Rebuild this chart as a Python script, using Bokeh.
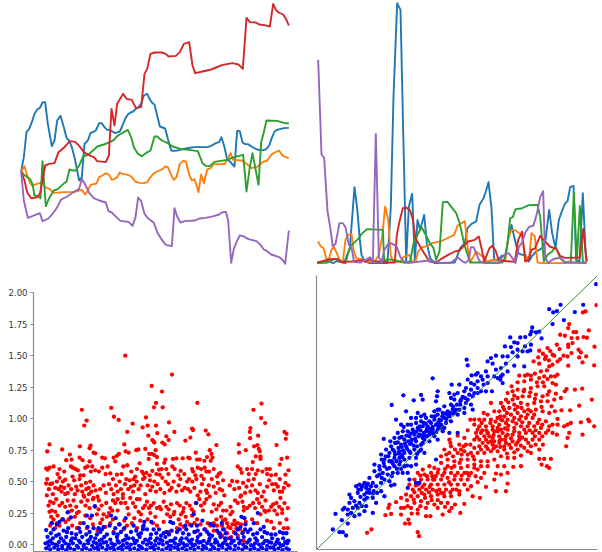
from bokeh.plotting import figure
from bokeh.layouts import column, row
from bokeh.models import Range1d, FixedTicker
from bokeh.embed import file_html
from bokeh.resources import INLINE

C = {"blue": "#1f77b4", "orange": "#ff7f0e", "green": "#2ca02c", "red": "#d62728", "purple": "#9467bd"}

# top-left panel: series as (position, depth below top)
tl_blue = [(62,513),(70,470),(78,395),(86,385),(94,365),(102,340),(110,327),(118,322),(126,306),(134,305),(142,370),(154,437),(162,420),(170,360),(180,346),(190,380),(198,412),(206,420),(214,440),(222,470),(230,510),(236,540),(244,530),(252,430),(262,420),(270,398),(278,394),(286,390),(296,368),(304,368),(312,380),(320,388),(328,388),(336,393),(344,398),(352,395),(358,393),(366,375),(374,355),(382,342),(390,336),(398,333),(406,325),(414,320),(422,310),(430,285),(440,280),(448,297),(456,308),(462,312),(470,345),(478,378),(486,381),(494,384),(502,415),(512,450),(520,451),(530,450),(540,448),(556,444),(580,440),(620,440),(632,436),(646,428),(656,425),(663,410),(672,440),(680,477),(688,483),(702,498),(710,391),(718,392),(726,425),(734,431),(742,431),(750,436),(758,441),(766,445),(776,449),(790,449),(798,445),(806,435),(814,412),(822,393),(830,388),(838,386),(850,383),(865,382)]
tl_orange = [(62,513),(72,497),(80,525),(88,545),(94,555),(110,550),(126,546),(134,560),(146,565),(160,577),(190,575),(222,574),(244,568),(254,582),(262,570),(270,553),(288,549),(296,530),(304,526),(316,518),(326,523),(334,538),(342,535),(350,530),(358,516),(366,520),(382,523),(392,528),(404,543),(416,547),(430,548),(440,545),(448,533),(458,520),(470,513),(486,506),(494,498),(502,500),(512,523),(520,538),(528,530),(538,490),(548,481),(556,483),(566,522),(574,540),(582,536),(586,548),(594,575),(602,522),(610,548),(620,507),(630,503),(640,491),(672,491),(684,470),(690,458),(698,478),(724,480),(738,490),(754,503),(770,499),(786,485),(800,480),(815,460),(835,450),(848,467),(865,473)]
tl_green = [(62,513),(72,524),(88,535),(96,550),(102,585),(112,587),(120,593),(126,482),(136,617),(146,593),(160,570),(172,566),(182,556),(192,547),(198,544),(207,507),(216,510),(226,510),(236,495),(248,468),(264,462),(280,448),(290,438),(310,432),(330,424),(340,418),(352,405),(370,395),(382,388),(392,410),(400,440),(412,460),(424,467),(436,458),(450,450),(462,408),(470,408),(484,420),(502,428),(516,438),(540,445),(570,449),(592,452),(606,488),(616,496),(628,497),(642,484),(680,478),(700,470),(728,463),(738,573),(748,500),(756,458),(764,500),(774,553),(782,425),(790,395),(798,360),(830,361),(850,367),(865,369)]
tl_red = [(62,513),(72,540),(80,575),(92,593),(108,591),(118,580),(126,540),(134,495),(146,490),(162,488),(174,455),(190,442),(208,422),(224,424),(236,436),(250,455),(270,466),(280,470),(290,482),(316,485),(325,465),(333,325),(342,375),(350,310),(368,280),(378,295),(394,298),(406,322),(422,320),(432,220),(440,205),(450,160),(462,156),(484,156),(496,160),(504,168),(526,166),(538,155),(550,130),(566,125),(576,195),(584,218),(606,213),(632,207),(666,193),(696,188),(714,192),(727,205),(738,52),(748,65),(766,66),(776,72),(792,74),(808,78),(818,10),(826,28),(834,36),(848,42),(858,58),(865,75)]
tl_purple = [(62,513),(70,600),(82,652),(118,638),(126,662),(144,654),(160,635),(170,620),(182,597),(200,588),(214,578),(236,565),(244,535),(254,552),(266,577),(280,593),(296,600),(316,606),(324,632),(334,636),(350,652),(360,661),(384,664),(396,676),(405,650),(413,591),(422,602),(432,640),(444,655),(460,667),(470,695),(482,715),(496,733),(514,737),(522,623),(530,648),(540,666),(552,662),(584,660),(596,654),(616,652),(640,647),(656,642),(664,636),(676,634),(683,660),(692,787),(700,745),(708,725),(718,705),(726,706),(744,716),(768,722),(780,733),(790,747),(800,752),(812,762),(836,770),(846,778),(854,790),(865,690)]

# top-right panel: (position, height above baseline)
tr_blue = [(47,0),(60,3),(70,8),(85,5),(95,0),(104,6),(128,2),(145,45),(159,228),(167,165),(175,70),(180,25),(190,5),(205,0),(258,0),(268,170),(276,500),(287,780),(297,760),(305,400),(314,5),(322,170),(332,208),(340,5),(348,130),(356,100),(368,145),(376,60),(386,15),(400,0),(460,2),(476,45),(490,60),(498,105),(510,118),(524,125),(534,175),(546,195),(553,215),(561,243),(570,165),(578,10),(590,10),(600,22),(612,25),(620,70),(630,115),(640,70),(650,30),(662,25),(672,25),(682,5),(692,22),(704,35),(722,45),(732,70),(743,160),(752,90),(762,45),(772,130),(782,158),(790,178),(798,186),(806,228),(816,232),(824,8),(834,5),(844,210),(852,40),(856,5)]
tr_orange = [(50,65),(58,50),(66,45),(74,15),(82,10),(90,40),(98,47),(106,30),(114,10),(124,5),(132,70),(140,85),(150,88),(156,40),(164,15),(180,12),(192,4),(208,4),(222,8),(232,25),(242,80),(251,170),(260,130),(268,20),(278,3),(296,4),(306,18),(324,25),(332,5),(342,5),(350,35),(360,47),(378,52),(392,60),(420,66),(436,74),(458,85),(468,112),(480,120),(490,126),(498,50),(506,3),(516,20),(524,35),(540,22),(548,20),(556,3),(566,8),(590,12),(604,5),(612,12),(620,75),(630,100),(642,98),(660,85),(668,40),(676,5),(684,25),(690,90),(700,80),(708,2),(720,0),(855,0)]
tr_green = [(47,0),(75,1),(90,8),(100,13),(110,11),(122,2),(132,0),(140,30),(148,52),(170,73),(180,87),(196,102),(244,100),(248,6),(258,12),(284,8),(310,1),(326,5),(336,60),(348,85),(360,108),(370,90),(384,62),(396,45),(404,10),(414,35),(424,183),(438,184),(450,168),(464,150),(474,122),(490,50),(506,2),(602,2),(610,15),(618,60),(626,135),(634,138),(642,162),(660,164),(682,174),(708,175),(716,140),(727,5),(738,25),(752,35),(762,50),(776,15),(790,2),(808,5),(817,212),(826,5),(835,172),(844,5),(855,0)]
tr_red = [(47,2),(60,5),(72,8),(85,12),(105,13),(120,3),(150,5),(172,8),(186,8),(194,5),(204,11),(220,6),(240,5),(258,2),(280,2),(286,85),(294,125),(304,165),(314,167),(326,158),(334,130),(342,75),(356,50),(368,30),(384,5),(404,2),(418,12),(440,25),(460,35),(474,38),(490,56),(500,65),(520,70),(532,80),(540,45),(548,5),(556,25),(564,45),(572,52),(582,38),(592,8),(640,4),(650,70),(662,95),(671,5),(682,12),(690,40),(700,44),(716,82),(728,68),(745,50),(765,42),(776,22),(790,16),(835,17),(845,103),(855,5)]
tr_purple = [(50,610),(60,326),(68,316),(78,156),(86,108),(94,50),(102,58),(114,120),(124,120),(132,108),(142,55),(150,46),(158,3),(178,2),(198,13),(206,18),(214,3),(223,388),(232,18),(240,3),(248,38),(258,55),(268,60),(278,55),(286,50),(296,20),(304,8),(320,0),(380,8),(420,1),(446,0),(460,11),(470,16),(482,6),(492,1),(502,10),(508,48),(516,48),(526,25),(534,6),(550,0),(592,0),(602,18),(612,26),(622,30),(632,16),(642,0),(652,48),(662,63),(672,93),(682,108),(696,113),(706,148),(716,198),(725,216),(731,18),(740,0),(752,10),(762,14),(778,16),(790,3),(810,3),(855,0)]

# bottom-left panel: (position, value)
bl_red = [(375,1.5),(515,1.35),(454,1.26),(485,1.215),(467,1.125),(461,1.09),(487,1.09),(591,1.125),(783,1.12),(759,1.07),(782,1.005),(794,.965),(333,1.085),(341,1.015),(355,.99),(245,1.07),(259,.985),(252,.945),(437,1.01),(397,.96),(427,.93),(442,.945),(381,.895),(467,.945),(506,.97),(522,.895),(471,.885),(444,.865),(498,.86),(505,.83),(486,.81),(493,.795),(456,.83),(460,.82),(462,.81),(555,.825),(570,.85),(575,.92),(578,.91),(616,.905),(624,.875),(648,.79),(750,.925),(748,.895),(749,.845),(773,.865),(771,.79),(761,.78),(852,.895),(858,.88),(856,.84),(828,.79),(148,.795),(141,.74),(186,.755),(239,.78),(271,.785),(268,.765),(280,.73),(285,.725),(372,.795),(376,.74),(385,.73),(408,.75),(414,.755),(435,.76),(466,.75),(455,.72),(462,.71),(470,.695),(447,.72),(445,.68),(495,.675),(518,.68),(528,.685),(547,.685),(564,.69),(568,.685),(586,.73),(590,.675),(598,.675),(612,.665),(620,.695),(628,.75),(633,.72),(636,.69),(631,.665),(715,.795),(716,.73),(736,.75),(778,.74),(775,.76),(780,.70),(780,.68),(766,.70),(757,.655),(860,.69),(843,.68),(838,.635),
(138,.605),(142,.595),(160,.62),(198,.67),(209,.715),(214,.675),(212,.62),(218,.61),(238,.69),(247,.67),(233,.59),(240,.55),(268,.66),(262,.62),(276,.62),(272,.58),(285,.59),(306,.69),(314,.685),(306,.61),(322,.62),(330,.565),(340,.69),(350,.705),(356,.72),(345,.66),(369,.62),(381,.63),(350,.555),(393,.58),(410,.6),(418,.645),(405,.54),(425,.58),(438,.57),(456,.585),(470,.64),(476,.595),(484,.6),(492,.65),(478,.555),(498,.6),(516,.62),(523,.6),(541,.585),(552,.56),(575,.6),(578,.58),(592,.61),(603,.545),(613,.61),(618,.58),(640,.6),(655,.56),(660,.57),(695,.505),(712,.62),(720,.6),(740,.6),(755,.6),(772,.59),(798,.6),(808,.6),(800,.56),(826,.555),(855,.555),
(141,.52),(150,.48),(138,.485),(156,.485),(172,.56),(178,.53),(165,.45),(175,.44),(188,.5),(195,.515),(184,.42),(195,.4),(205,.47),(213,.44),(222,.51),(228,.46),(238,.52),(250,.55),(257,.49),(246,.42),(258,.44),(270,.5),(280,.47),(266,.4),(280,.37),(292,.38),(310,.47),(326,.48),(340,.4),(352,.42),(338,.35),(358,.5),(374,.48),(378,.52),(388,.51),(402,.47),(398,.42),(415,.44),(428,.52),(442,.47),(435,.4),(450,.43),(462,.5),(472,.48),(486,.53),(496,.5),(508,.43),(520,.5),(535,.47),(545,.43),(560,.5),(570,.42),(582,.45),(592,.39),(605,.48),(617,.43),(625,.47),(640,.46),(652,.49),(665,.43),(672,.39),(688,.47),(710,.5),(722,.39),(734,.41),(744,.51),(755,.47),(765,.43),(772,.41),(784,.38),(800,.46),(815,.48),(820,.43),(832,.46),(845,.42),(855,.49),(864,.47),(840,.37),
(140,.39),(150,.34),(160,.33),(155,.27),(165,.26),(178,.31),(195,.3),(210,.31),(220,.35),(228,.3),(236,.26),(215,.27),(250,.39),(262,.35),(278,.36),(296,.35),(295,.28),(310,.24),(330,.29),(345,.33),(362,.33),(375,.33),(390,.37),(405,.3),(418,.36),(428,.29),(440,.34),(452,.31),(470,.29),(490,.34),(505,.28),(522,.26),(538,.31),(550,.29),(568,.31),(580,.26),(597,.36),(612,.33),(628,.38),(640,.32),(655,.31),(668,.27),(690,.3),(704,.35),(720,.38),(730,.3),(740,.29),(758,.33),(770,.36),(785,.3),(795,.35),(805,.27),(818,.32),(828,.33),(845,.28),(862,.29),
(148,.26),(160,.2),(170,.17),(186,.2),(205,.2),(230,.25),(255,.23),(270,.21),(290,.24),(300,.17),(320,.22),(338,.2),(352,.27),(372,.19),(385,.24),(402,.21),(415,.26),(428,.14),(450,.25),(465,.22),(482,.28),(510,.22),(520,.24),(535,.2),(548,.26),(560,.18),(575,.23),(590,.2),(608,.27),(622,.17),(640,.17),(650,.15),(662,.22),(675,.2),(690,.24),(702,.19),(712,.17),(730,.27),(755,.2),(780,.24),(795,.26),(812,.18),(830,.24),(845,.25),(858,.2),(820,.13),(850,.13),
(150,.15),(165,.13),(200,.1),(230,.13),(260,.13),(292,.11),(315,.14),(340,.1),(370,.12),(410,.13),(470,.15),(505,.1),(530,.13),(550,.14),(585,.1),(615,.12),(640,.11),(655,.09),(665,.15),(672,.12),(680,.17),(680,.09),(690,.13),(692,.06),(700,.1),(705,.16),(712,.07),(718,.12),(728,.1),(665,.07),(683,.05),(730,.03),
(146,.44),(158,.4),(170,.5),(182,.46),(192,.45),(203,.41),(217,.54),(224,.4),(232,.43),(243,.47),(252,.38),(265,.45),(273,.42),(286,.43),(300,.44),(317,.41),(333,.44),(347,.47),(362,.44),(368,.4),(384,.44),(392,.46),(409,.5),(421,.47),(433,.53),(449,.51),(456,.46),(467,.42),(480,.44),(492,.41),(503,.48),(514,.45),(528,.42),(540,.52),(553,.45),(563,.44),(576,.5),(588,.52),(600,.42),(610,.52),(620,.41),(634,.52),(646,.41),(658,.44),(702,.44),(716,.45),(728,.49),(738,.46),(750,.42),(760,.52),(778,.48),(790,.42),(806,.51),(826,.48),(838,.42),(850,.45),
(145,.31),(153,.22),(168,.36),(172,.23),(186,.33),(202,.35),(206,.26),(224,.22),(243,.34),(256,.31),(268,.29),(284,.3),(304,.31),(318,.33),(326,.25),(336,.27),(352,.36),(368,.37),(382,.29),(398,.33),(410,.36),(422,.24),(434,.31),(446,.29),(460,.33),(478,.3),(498,.3),(512,.32),(530,.33),(542,.24),(558,.33),(574,.28),(586,.33),(602,.31),(618,.36),(634,.26),(648,.28),(662,.33),(678,.27),(696,.26),(712,.33),(726,.34),(748,.31),(764,.29),(776,.33),(792,.27),(812,.3),(822,.27),(836,.3),(852,.33),
(154,.17),(178,.15),(196,.18),(216,.15),(240,.17),(278,.16),(306,.2),(330,.17),(356,.16),(380,.15),(395,.17),(420,.19),(442,.2),(458,.17),(490,.18),(500,.24),(540,.16),(556,.22),(568,.16),(582,.17),(600,.16),(630,.15),(648,.2),(668,.19),(684,.14),(696,.16),(708,.13),(722,.16),(736,.18),(770,.17),(800,.19),(838,.17),(862,.13),
(148,.61),(178,.6),(192,.58),(226,.6),(255,.61),(296,.58),(316,.56),(338,.52),(364,.56),(400,.52),(430,.56),(448,.55),(468,.56),(504,.56),(534,.55),(566,.52),(585,.55),(602,.6),(626,.58),(650,.54),(668,.51),(724,.57),(745,.56),(766,.56),(786,.58),(812,.55),(838,.52),(864,.59)]
bl_blue = [(284,.305),(202,.255),(260,.23),(275,.23),(212,.215),(332,.23),(346,.21),(376,.21),(580,.24),(588,.33),(772,.25),(723,.22),(732,.21),(138,.115),(155,.17),(170,.16),(178,.18),(188,.2),(432,.18),(453,.18),(510,.18),(518,.17),(573,.15),(590,.15),(606,.19),(630,.165),(664,.17),(735,.16),(760,.17),(790,.14),(250,.17),(262,.14),(280,.13),(295,.13),(310,.14),(328,.15),(345,.13),(358,.16),(400,.15),(430,.15),(555,.15),(640,.15),(720,.14),
(160,.12),(190,.11),(200,.1),(214,.09),(228,.08),(240,.1),(258,.08),(272,.06),(300,.1),(320,.08),(340,.09),(362,.1),(378,.07),(392,.1),(408,.11),(422,.09),(440,.12),(452,.08),(468,.09),(482,.07),(498,.1),(514,.11),(530,.1),(548,.09),(565,.08),(582,.1),(600,.08),(620,.1),(635,.07),(650,.11),(668,.12),(690,.05),(705,.09),(726,.09),(742,.1),(758,.08),(780,.12),(800,.09),(825,.08),(838,.1),(858,.09),
(142,.06),(150,.03),(168,.07),(182,.05),(198,.06),(212,.03),(225,.05),(246,.06),(262,.03),(285,.05),(298,.03),(312,.06),(330,.04),(350,.06),(368,.03),(385,.05),(402,.03),(418,.06),(435,.04),(450,.05),(465,.03),(480,.04),(495,.06),(510,.03),(525,.05),(540,.03),(558,.05),(575,.04),(592,.06),(610,.03),(628,.05),(645,.04),(660,.06),(675,.03),(695,.03),(712,.05),(730,.06),(748,.04),(765,.05),(785,.06),(800,.03),(815,.05),(832,.04),(848,.05),(862,.03),
(136,.01),(146,-.01),(156,.01),(166,.0),(176,.02),(186,-.01),(196,.01),(206,.0),(218,.01),(230,-.01),(240,.015),(252,.0),(264,.01),(276,-.01),(288,.01),(300,.0),(310,.015),(322,-.01),(334,.01),(344,.0),(356,.015),(368,-.005),(380,.01),(392,.0),(404,.01),(416,-.01),(428,.015),(440,.0),(452,.01),(464,-.005),(476,.01),(488,.0),(500,.015),(512,-.01),(524,.01),(536,.0),(548,.01),(560,-.005),(572,.01),(584,.0),(596,.015),(608,-.01),(620,.01),(632,.0),(644,.015),(656,-.005),(668,.01),(680,.0),(692,.01),(704,-.01),(716,.01),(728,.0),(740,.015),(752,-.005),(764,.01),(776,.0),(788,.01),(800,-.01),(812,.015),(824,.0),(836,.01),(848,-.005),(860,.01),
(138,-.03),(150,-.04),(162,-.025),(174,-.04),(186,-.03),(198,-.045),(210,-.03),(222,-.04),(234,-.025),(246,-.04),(258,-.03),(270,-.045),(282,-.03),(294,-.04),(306,-.025),(318,-.04),(330,-.03),(342,-.045),(354,-.03),(366,-.04),(378,-.025),(390,-.04),(402,-.03),(414,-.045),(426,-.03),(438,-.04),(450,-.025),(462,-.04),(474,-.03),(486,-.045),(498,-.03),(510,-.04),(522,-.025),(534,-.04),(546,-.03),(558,-.045),(570,-.03),(582,-.04),(594,-.025),(606,-.04),(618,-.03),(630,-.045),(642,-.03),(654,-.04),(666,-.025),(678,-.04),(690,-.03),(702,-.045),(714,-.03),(726,-.04),(738,-.025),(750,-.04),(762,-.03),(774,-.045),(786,-.03),(798,-.04),(810,-.025),(822,-.04),(834,-.03),(846,-.045),(858,-.03),(865,-.04),
(144,.02),(158,.05),(172,-.01),(190,.03),(204,-.02),(216,.05),(236,.03),(250,-.01),(268,.04),(280,.02),(292,-.02),(304,.04),(318,.02),(338,-.02),(352,.03),(362,-.02),(374,.04),(386,-.02),(398,.05),(410,.03),(422,-.02),(444,.03),(458,-.02),(470,.05),(486,.03),(506,-.01),(518,.03),(530,-.02),(544,.05),(554,-.01),(566,.03),(578,-.01),(590,.03),(602,.02),(614,-.02),(626,.03),(638,-.02),(650,.02),(664,-.01),(674,.05),(686,-.02),(700,.03),(720,.03),(734,-.02),(746,.03),(758,-.01),(770,.03),(782,-.02),(794,.03),(806,.02),(818,-.02),(828,.02),(842,-.01),(854,.02),(864,.03),
(152,.09),(176,.08),(204,.13),(236,.13),(268,.1),(290,.08),(305,.12),(352,.08),(372,.13),(414,.08),(428,.12),(460,.12),(476,.12),(490,.09),(506,.08),(538,.12),(558,.12),(592,.11),(612,.12),(626,.08),(658,.09),(676,.09),(712,.12),(734,.12),(750,.12),(770,.09),(792,.1),(812,.08),(848,.09)]

# bottom-right panel: (first measure, depth of second measure)
br_blue = [(886,23),(779,85),(847,85),(745,98),(822,107),(768,104),(757,108),(789,131),(755,143),(722,186),(694,153),(705,168),(715,166),(692,165),(688,174),(673,182),(658,183),(628,183),(612,210),(640,198),(630,212),(650,220),(665,225),(680,225),(690,205),(688,222),(635,228),(620,240),(605,240),(585,238),(570,245),(560,255),(497,250),(500,267),(575,262),(555,285),(530,290),(512,297),(525,295),(395,306),(307,357),(360,356),(365,370),(338,372),(272,386),(410,345),(408,360),(405,375),(452,325),(475,325),(500,310),(510,320),(520,325),(530,315),(545,310),(560,300),(580,300),(590,305),(605,320),(598,310),(620,285),(640,268),(670,270),(600,275),(605,295),(530,335),(540,345),(555,345),(573,345),(510,340),(495,335),(505,355),(520,350),(490,345),(470,350),(445,350),(450,365),(460,370),(480,370),(495,380),(510,385),(515,400),(490,395),(475,400),(470,415),(450,385),(430,390),(415,400),(400,405),(410,415),(425,410),(440,405),(455,400),(465,400),(445,420),(430,425),(415,430),(400,430),(390,440),(405,445),(420,445),(435,440),(450,435),(470,470),(445,470),(425,465),(410,460),(395,460),(380,450),(365,450),(375,465),(385,475),(400,480),(410,490),(350,410),(370,415),(315,405),(330,425),(285,430),(300,445),(320,445),(345,440),(360,435),(350,455),(335,460),(320,465),(305,465),(290,470),(248,488),(280,485),(295,485),(310,490),(325,480),(340,475),(355,475),(370,490),(385,495),(360,505),(345,495),(330,500),(315,510),(300,505),(285,500),(270,510),(255,520),(240,535),(265,530),(280,525),(295,525),(310,530),(325,525),(340,520),(355,525),(370,530),(345,545),(325,545),(310,550),(295,545),(280,545),(265,555),(250,550),(220,565),(235,570),(250,570),(265,575),(280,570),(295,565),(310,570),(405,550),(345,565),(330,570),(245,590),(260,595),(275,590),(290,590),(305,590),(320,590),(220,585),(235,595),(250,610),(265,615),(280,625),(270,628),(325,610),(320,635),(345,620),(355,620),(205,605),(190,620),(175,625),(165,630),(180,640),(195,635),(210,630),(225,630),(240,620),(205,650),(190,655),(170,650),(150,665),(145,655),(240,645),(250,660),(215,665),(225,680),(190,670),(175,680),(160,675),(145,680),(130,695),(125,700),(140,700),(155,695),(195,690),(170,695),(215,710),(190,705),(175,715),(160,720),(140,715),(103,713),(122,732),(140,742),(95,760),(115,768),(125,768),(135,778),
(420,432),(412,438),(395,452),(388,458),(378,458),(368,470),(358,462),(352,480),(342,488),(332,490),(322,495),(312,502),(302,512),(292,515),(282,535),(272,555),(258,578),(300,535),(348,510),(365,485),(378,480),(392,470),(405,468),(418,455),(430,455),(440,415),(455,412),(468,385),(478,385),(485,362),(460,355),(500,370),(515,360),(530,350),(490,410),(410,400),(402,420),(385,435),(374,442),(328,472),(316,478),(302,482),(290,498),(275,520),(262,540),(248,560),(236,580),(215,620),(200,622),(185,628),(172,640),(198,648),(218,645),(228,650),
(337,468),(346,466),(362,478),(372,478),(384,465),(396,472),(412,450),(424,452),(436,428),(424,420),(434,412),(446,410),(456,390),(462,410),(478,375),(492,365),(327,503),(338,508),(306,522),(318,518),(292,532),(304,542),(286,555),(298,556),(275,562),(288,578),(272,600),(300,578),(228,600),(242,605),(198,626),(182,632),(204,640),(216,652),(178,662),(198,665),(165,688),(182,690),(150,710),(548,325),(560,320),(585,280),(615,262),(650,240),(672,210),(650,200),(600,300),(540,300),(375,425),(360,420),(330,445),(308,452),(345,425),(282,500),(268,495),(254,540),(242,550),(328,530),(348,533),(360,520),(318,568),(356,450),(368,440),(392,420),(365,500)]
br_red = [(887,86),(854,105),(846,108),(805,143),(802,155),(818,167),(826,167),(864,162),(778,175),(792,178),(812,185),(830,185),(848,182),(858,184),(802,205),(815,200),(768,205),(740,215),(715,223),(881,211),(833,220),(802,212),(840,228),(812,230),(755,235),(735,240),(712,243),(698,255),(788,238),(800,240),(778,248),(835,243),(856,240),(845,258),(880,267),(802,268),(770,255),(755,265),(745,270),(738,282),(702,292),(680,295),(655,298),(770,295),(750,300),(730,300),(715,305),(690,310),(670,315),(650,318),(632,330),(620,350),(635,345),(650,340),(670,340),(690,335),(710,330),(730,330),(755,320),(765,325),(797,338),(822,340),(844,337),(792,345),(765,352),(745,345),(725,360),(705,355),(685,360),(665,360),(650,365),(635,370),(615,370),(600,380),(570,380),(548,410),(560,415),(580,405),(595,405),(610,400),(625,395),(640,385),(660,380),(680,385),(700,380),(720,375),(740,375),(760,370),(780,365),(835,388),(873,370),(808,402),(782,402),(762,405),(745,410),(725,405),(705,400),(690,405),(670,405),(650,410),(630,415),(610,420),(590,425),(570,430),(550,430),(535,430),(508,430),(520,430),(862,430),(840,438),(810,440),(770,428),(755,445),(735,435),(715,430),(695,425),(675,425),(655,430),(635,435),(615,440),(595,445),(575,450),(555,450),(535,450),(520,445),(500,462),(880,450),(865,435),(800,445),(790,450),(770,445),(745,450),(720,455),(700,450),(680,450),(660,450),(640,455),(620,460),(600,460),(580,465),(560,470),(540,470),(525,470),(845,475),(805,470),(768,475),(755,470),(735,470),(715,470),(695,470),(675,470),(655,470),(635,475),(615,480),(595,480),(575,485),(555,490),(535,490),(520,490),(490,485),(470,478),(445,490),(800,485),(715,490),(695,490),(675,490),(655,490),(635,495),(615,500),(595,500),(575,505),(555,510),(535,510),(520,515),(495,505),(475,505),(450,510),(430,520),(796,510),(715,520),(690,510),(670,515),(650,520),(630,515),(610,520),(590,525),(570,525),(550,530),(530,530),(510,530),(490,525),(470,530),(445,530),(690,530),(660,538),(640,545),(620,545),(600,540),(580,550),(560,555),(540,555),(520,550),(500,550),(480,550),(460,555),(440,550),(420,540),(715,548),(730,548),(750,548),(722,565),(738,570),(745,575),(660,570),(637,572),(610,570),(590,570),(560,570),(540,570),(520,565),(500,570),(480,575),(460,570),(440,570),(420,560),(400,575),(385,570),(365,580),(550,590),(585,592),(600,595),(620,590),(530,580),(510,590),(490,590),(470,590),(450,590),(430,590),(410,590),(390,590),(370,595),(350,590),(340,610),(360,610),(380,610),(400,610),(420,610),(440,605),(460,610),(480,610),(500,610),(530,618),(555,632),(580,610),(620,622),(585,645),(615,645),(510,630),(490,625),(470,625),(450,625),(430,625),(410,625),(390,625),(370,625),(350,625),(325,625),(335,640),(355,640),(375,640),(395,640),(415,640),(435,640),(455,640),(475,645),(500,640),(515,660),(537,665),(475,655),(450,660),(430,660),(410,655),(390,660),(370,655),(350,660),(330,660),(315,655),(300,665),(285,678),(265,685),(262,695),(300,695),(320,690),(340,680),(360,675),(380,680),(400,685),(420,680),(440,680),(462,685),(490,683),(410,695),(375,695),(350,700),(330,695),(310,695),(300,715),(270,713),(253,717),(332,712),(350,712),(375,720),(388,720),(425,715),(445,705),(478,710),(322,730),(312,742),(325,742),(350,768),(354,780),(198,770),(211,760),
(560,470),(575,460),(590,455),(605,470),(620,475),(640,465),(655,480),(670,460),(685,440),(600,490),(585,510),(570,495),(550,480),(545,500),(530,460),(625,505),(645,505),(610,510),(590,465),(565,480),(580,495),(600,430),(620,430),(640,425),(660,420),(680,415),(700,415),(710,440),
(542,440),(556,462),(568,440),(584,436),(604,432),(622,448),(646,442),(664,438),(686,462),(704,462),(724,445),(742,462),(528,482),(544,462),(562,498),(578,476),(596,492),(612,490),(630,486),(650,498),(664,484),(682,500),(702,480),(724,480),(540,520),(560,518),(578,516),(598,512),(618,532),(640,528),(660,508),(680,525),(704,505),(726,505),(606,392),(622,378),(642,400),(662,395),(682,400),(702,368),(722,392),(740,355),(752,390),(598,420),(612,456),(650,392),(618,410),(668,345),(688,348),(708,318),(726,318),(740,308),(762,300),(640,358),(690,298),(672,298),(720,285),(744,252),(760,238),(732,248),(715,262),(776,218),(748,224),(726,232),(508,505),(488,510),(462,520),(448,500),(436,535),(456,540),(482,535),(500,535),(516,540),(476,560),(452,575),(432,578),(412,580),(394,600),(378,600),(358,598),(344,628),(364,632),(386,632),(404,600),(424,598),(444,618),(462,598),(482,598),(504,598),(524,600),(540,605),(466,640),(448,648),(428,650),(406,645),(384,648),(362,650),(340,648),(318,672),(338,670),(358,690),(392,672),(410,672),(432,692),(452,695),(520,575),(498,590),(480,520),(372,665),(396,610),(420,650)]

dot_size = 4.3


def bare(p):
    p.grid.visible = False
    p.outline_line_color = None
    p.background_fill_color = None
    p.border_fill_color = None


def lines(p, *series):
    for s, c in series:
        xs, ys = zip(*s)
        p.line(list(xs), list(ys), line_color=C[c], line_width=1.9, line_join="round")


def spine(ax):
    ax.axis_line_color = "#8c8c8c"
    ax.axis_line_width = 1.2


def dots(p, s, color):
    xs, ys = zip(*s)
    p.scatter(list(xs), list(ys), size=dot_size, fill_color=color, line_color=None)


tl = figure(width=301, height=275, output_backend="svg", toolbar_location=None,
            x_range=Range1d(0, 903), y_range=Range1d(825, 0),
            min_border_left=0, min_border_right=0, min_border_top=0, min_border_bottom=0,
            x_axis_location=None, y_axis_location=None)
bare(tl)
lines(tl, (tl_blue, "blue"), (tl_orange, "orange"), (tl_green, "green"), (tl_red, "red"), (tl_purple, "purple"))

tr = figure(width=301, height=275, output_backend="svg", toolbar_location=None,
            x_range=Range1d(0, 903), y_range=Range1d(-37, 788),
            min_border_left=0, min_border_right=0, min_border_top=0, min_border_bottom=0,
            x_axis_location=None, y_axis_location=None)
bare(tr)
lines(tr, (tr_blue, "blue"), (tr_orange, "orange"), (tr_green, "green"), (tr_red, "red"), (tr_purple, "purple"))

# frame runs above the 2.00 tick so that the neighbouring panel can reach the top of its row
bl = figure(width=301, height=277, output_backend="svg", toolbar_location=None,
            x_range=Range1d(100, 891), y_range=Range1d(-0.055, 2.137),
            min_border_left=33, min_border_right=4, min_border_top=0, min_border_bottom=1)
bare(bl)
bl.yaxis.ticker = FixedTicker(ticks=[0, .25, .5, .75, 1, 1.25, 1.5, 1.75, 2])
bl.yaxis.major_label_overrides = {0: "0.00", .25: "0.25", .5: "0.50", .75: "0.75", 1: "1.00", 1.25: "1.25", 1.5: "1.50", 1.75: "1.75", 2: "2.00"}
bl.yaxis.bounds = (-0.055, 2.0)
bl.yaxis.major_label_text_font = "DejaVu Sans"
bl.yaxis.major_label_text_font_size = "8.5px"
bl.yaxis.major_label_text_color = "#333333"
bl.yaxis.major_tick_in = 0
bl.yaxis.major_tick_out = 3
bl.yaxis.major_tick_line_color = "#8c8c8c"
bl.yaxis.minor_tick_line_color = None
bl.yaxis.major_label_standoff = 3
bl.xaxis.ticker = FixedTicker(ticks=[])
bl.xaxis.minor_tick_line_color = None
spine(bl.yaxis[0])
spine(bl.xaxis[0])
dots(bl, bl_red, "#ff0000")
dots(bl, bl_blue, "#0000ff")

br = figure(width=301, height=275, output_backend="svg", toolbar_location=None,
            x_range=Range1d(46, 890), y_range=Range1d(820, -3),
            min_border_left=15, min_border_right=5, min_border_top=0, min_border_bottom=1)
bare(br)
br.yaxis.ticker = FixedTicker(ticks=[])
br.xaxis.ticker = FixedTicker(ticks=[])
br.xaxis.minor_tick_line_color = None
br.yaxis.minor_tick_line_color = None
spine(br.yaxis[0])
spine(br.xaxis[0])
dots(br, br_red, "#ff0000")
dots(br, br_blue, "#0000ff")
br.line([46, 890], [820, -3], line_color="#2e8b2e", line_width=1)

page = column(row(tl, tr, spacing=0), row(bl, br, spacing=0), spacing=0)
open("out.html", "w").write(file_html(page, INLINE))
